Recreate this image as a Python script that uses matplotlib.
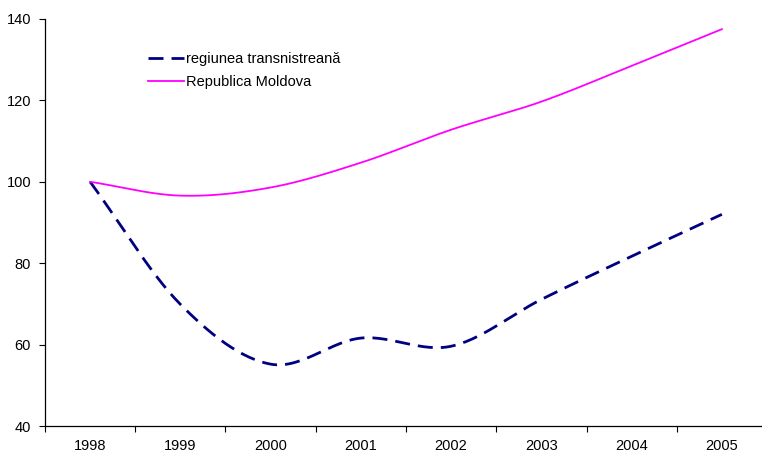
import numpy as np
import matplotlib
matplotlib.use("Agg")
import matplotlib.pyplot as plt

plt.rcParams['font.family'] = ['Liberation Sans', 'DejaVu Sans']

years = ['1998', '1999', '2000', '2001', '2002', '2003', '2004', '2005']
transnistria = [100.0, 69.9, 55.2, 61.6, 59.6, 71.1, 81.7, 92.0]
moldova = [100.0, 96.6, 98.6, 104.7, 112.8, 119.7, 128.5, 137.5]
label_tr = 'regiunea transnistreană'
label_md = 'Republica Moldova'
yticks = [40, 60, 80, 100, 120, 140]


def smooth(y, n=30):
    y = np.asarray(y, dtype=float)
    x = np.arange(len(y), dtype=float)
    xs, ys = [], []
    for i in range(len(y) - 1):
        p1, p2 = y[i], y[i + 1]
        p0 = y[i - 1] if i > 0 else 2 * p1 - p2
        p3 = y[i + 2] if i + 2 < len(y) else 2 * p2 - p1
        t = np.linspace(0, 1, n, endpoint=(i == len(y) - 2))
        v = 0.5 * ((2 * p1) + (-p0 + p2) * t + (2 * p0 - 5 * p1 + 4 * p2 - p3) * t ** 2
                   + (-p0 + 3 * p1 - 3 * p2 + p3) * t ** 3)
        xs.append(x[i] + t)
        ys.append(v)
    return np.concatenate(xs), np.concatenate(ys)


W, H = 762, 453
fig = plt.figure(figsize=(W / 100, H / 100), dpi=100)
ax = fig.add_axes([45 / W, (H - 426) / H, (767 - 45) / W, (426 - 19) / H])

xt, yt = smooth(transnistria)
xm, ym = smooth(moldova)
ax.plot(xt, yt, color='#000080', lw=2.0, dashes=(5.4, 2.9), label=label_tr)
ax.plot(xm, ym, color='#FF00FF', lw=1.3, label=label_md)

ax.set_xlim(-0.5, len(years) - 0.5)
ax.set_ylim(40, 140)
ax.set_yticks(yticks)
ax.set_yticklabels([str(v) for v in yticks])
ax.set_xticks(np.arange(len(years)))
ax.set_xticklabels(years)
ax.set_xticks(np.arange(len(years) + 1) - 0.5, minor=True)
ax.tick_params(axis='x', which='major', length=0, pad=9, labelsize=10.5)
ax.tick_params(axis='x', which='minor', length=4, width=0.8, direction='out')
ax.tick_params(axis='y', length=4, width=0.8, direction='out', labelsize=10.5, pad=6)
for s in ['top', 'right']:
    ax.spines[s].set_visible(False)
for s in ['left', 'bottom']:
    ax.spines[s].set_linewidth(0.9)

leg = ax.legend(loc='upper left', bbox_to_anchor=(148 / W, 1 - 52 / H), bbox_transform=fig.transFigure,
                frameon=False, fontsize=10.5, handlelength=2.5, handletextpad=0.1, labelspacing=0.6,
                borderaxespad=0, borderpad=0)

fig.savefig('out.png', dpi=100)
